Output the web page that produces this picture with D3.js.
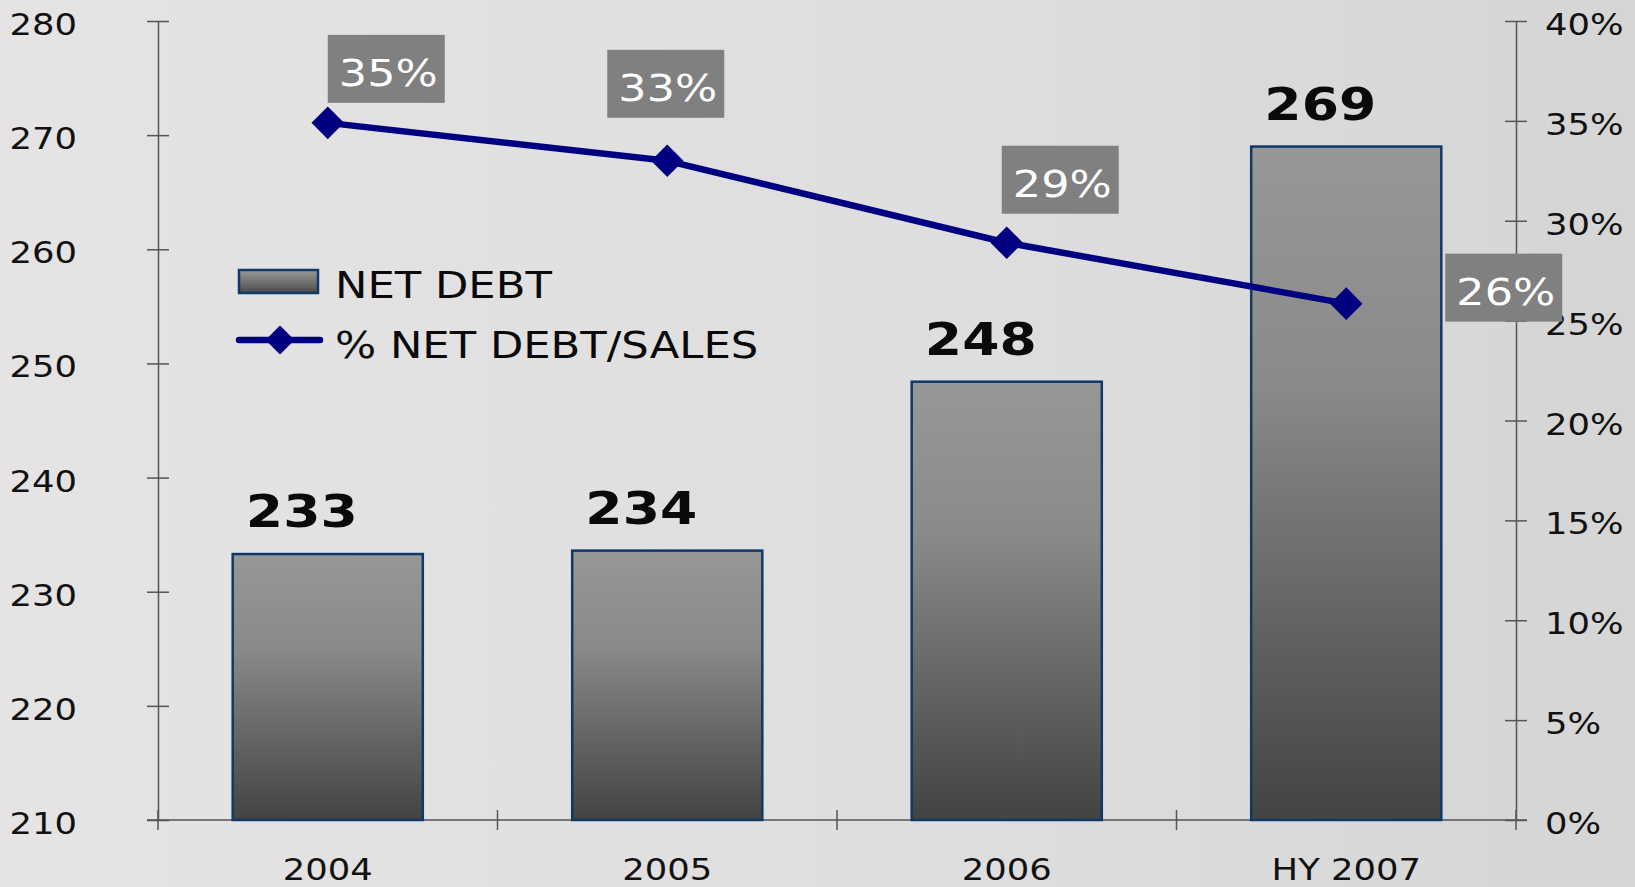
<!DOCTYPE html>
<html>
<head>
<meta charset="utf-8">
<script src="https://cdn.jsdelivr.net/npm/d3@7"></script>
<style>
  body { margin: 0; overflow: hidden; }
  svg { display: block; }
  text { font-family: "DejaVu Sans", Verdana, sans-serif; }
</style>
</head>
<body>
<svg id="chart" width="1635" height="887"></svg>
<script>
// data
var categories = ['2004', '2005', '2006', 'HY 2007'];
var netDebt = [233.3, 233.6, 248.4, 269.0];
var debtSalesPct = [0.349, 0.330, 0.289, 0.2585];
var debtSalesLabels = ['35%', '33%', '29%', '26%'];
var leftTicks = [210, 220, 230, 240, 250, 260, 270, 280];
var rightTicks = [0, 0.05, 0.10, 0.15, 0.20, 0.25, 0.30, 0.35, 0.40];

// where the grey % boxes sit relative to their point (left edge, top edge)
var boxOffsets = [[0, -88], [-60, -111], [-5, -97], [99, -50]];

var width = 1635, height = 887;
var plot = { left: 158, right: 1516, top: 21, bottom: 820 };
var stretch = 1.14;     // text in the source is drawn a bit wide
var boldStretch = 1.19;

var svg = d3.select('#chart');
var defs = svg.append('defs');

// put a text at (px,py) and widen it a little, like the source slide
function place(sel, px, py, s) {
  sel.attr('x', 0).attr('y', 0).attr('dy', 0)
    .attr('transform', 'translate(' + px + ',' + py + ') scale(' + s + ',1)');
}

// background
var bg = defs.append('linearGradient').attr('id', 'bg')
  .attr('x1', '0%').attr('y1', '0%').attr('x2', '100%').attr('y2', '0%');
bg.append('stop').attr('offset', '0%').attr('stop-color', '#e5e3e4');
bg.append('stop').attr('offset', '60%').attr('stop-color', '#dfdedf');
bg.append('stop').attr('offset', '100%').attr('stop-color', '#d5d5d5');
svg.append('rect').attr('width', width).attr('height', height).attr('fill', 'url(#bg)');

// bar gradient
var barGrad = defs.append('linearGradient').attr('id', 'barGrad')
  .attr('x1', '0%').attr('y1', '0%').attr('x2', '0%').attr('y2', '100%');
barGrad.append('stop').attr('offset', '0%').attr('stop-color', '#979797');
barGrad.append('stop').attr('offset', '35%').attr('stop-color', '#8a8a8a');
barGrad.append('stop').attr('offset', '100%').attr('stop-color', '#434343');

var x = d3.scaleBand()
  .domain(categories)
  .range([plot.left, plot.right])
  .paddingInner(0.44)
  .paddingOuter(0.22);

var yLeft = d3.scaleLinear().domain([210, 280]).range([plot.bottom, plot.top]);
var yRight = d3.scaleLinear().domain([0, 0.40]).range([plot.bottom, plot.top]);

var axisColor = '#555555';

// left axis
var gLeft = svg.append('g')
  .attr('transform', 'translate(' + plot.left + ',0)')
  .call(d3.axisLeft(yLeft).tickValues(leftTicks).tickSizeInner(11).tickSizeOuter(0));
gLeft.selectAll('.tick line').attr('x1', 11);
gLeft.selectAll('.tick text')
  .attr('text-anchor', 'end')
  .style('font-size', '31px').attr('fill', '#111')
  .each(function() { place(d3.select(this), -81, 13.5, stretch); });

// right axis
var gRight = svg.append('g')
  .attr('transform', 'translate(' + plot.right + ',0)')
  .call(d3.axisRight(yRight).tickValues(rightTicks).tickSizeInner(11).tickSizeOuter(0)
    .tickFormat(d3.format('.0%')));
gRight.selectAll('.tick line').attr('x1', -11);
gRight.selectAll('.tick text')
  .attr('text-anchor', 'start')
  .style('font-size', '31px').attr('fill', '#111')
  .each(function() { place(d3.select(this), 29, 13.5, stretch); });

// bottom axis: labels at band centres, ticks at band boundaries
var gBottom = svg.append('g')
  .attr('transform', 'translate(0,' + plot.bottom + ')')
  .call(d3.axisBottom(x).tickSize(0).tickPadding(0));
gBottom.select('.domain').remove();
gBottom.selectAll('.tick text')
  .style('font-size', '31px').attr('fill', '#111')
  .each(function() { place(d3.select(this), 0, 60, stretch); });

var halfGap = x.step() * x.paddingInner() / 2;
var bounds = categories.map(function(c) { return x(c) - halfGap; });
bounds.push(plot.right);

svg.append('line')
  .attr('x1', plot.left - 11).attr('x2', plot.right + 11)
  .attr('y1', plot.bottom).attr('y2', plot.bottom)
  .attr('stroke', axisColor).attr('stroke-width', 1.5);

svg.append('g').selectAll('line')
  .data(bounds)
  .enter().append('line')
  .attr('x1', function(d) { return d; }).attr('x2', function(d) { return d; })
  .attr('y1', plot.bottom - 10).attr('y2', plot.bottom + 10)
  .attr('stroke', axisColor).attr('stroke-width', 1.5);

svg.selectAll('.domain').attr('stroke', axisColor).attr('stroke-width', 1.5);
svg.selectAll('.tick line').attr('stroke', axisColor).attr('stroke-width', 1.5);

// bars
svg.append('g').selectAll('rect')
  .data(netDebt)
  .enter().append('rect')
  .attr('x', function(d, i) { return x(categories[i]); })
  .attr('y', function(d) { return yLeft(d); })
  .attr('width', x.bandwidth())
  .attr('height', function(d) { return yLeft(210) - yLeft(d); })
  .attr('fill', 'url(#barGrad)')
  .attr('stroke', '#10396a')
  .attr('stroke-width', 2.5);

// bar value labels
svg.append('g').selectAll('text')
  .data(netDebt)
  .enter().append('text')
  .attr('text-anchor', 'middle')
  .style('font-size', '45px').style('font-weight', 'bold')
  .attr('fill', '#0a0a0a')
  .text(function(d) { return d3.format('.0f')(d); })
  .each(function(d, i) {
    place(d3.select(this), x(categories[i]) + x.bandwidth() / 2 - 26, yLeft(d) - 27, boldStretch);
  });

// line
var cx = function(i) { return x(categories[i]) + x.bandwidth() / 2; };
var lineGen = d3.line()
  .x(function(d, i) { return cx(i); })
  .y(function(d) { return yRight(d); });

svg.append('path')
  .datum(debtSalesPct)
  .attr('d', lineGen)
  .attr('fill', 'none')
  .attr('stroke', '#000080')
  .attr('stroke-width', 6.5)
  .attr('stroke-linejoin', 'round');

var diamond = d3.symbol().type(d3.symbolSquare).size(530);
svg.append('g').selectAll('path')
  .data(debtSalesPct)
  .enter().append('path')
  .attr('d', diamond)
  .attr('transform', function(d, i) { return 'translate(' + cx(i) + ',' + yRight(d) + ') rotate(45)'; })
  .attr('fill', '#000080');

// grey % boxes
var boxW = 117, boxH = 68;
var boxes = svg.append('g').selectAll('g')
  .data(debtSalesPct)
  .enter().append('g')
  .attr('transform', function(d, i) {
    return 'translate(' + (cx(i) + boxOffsets[i][0]) + ',' + (yRight(d) + boxOffsets[i][1]) + ')';
  });
boxes.append('rect')
  .attr('width', boxW).attr('height', boxH)
  .attr('fill', '#808080');
boxes.append('text')
  .attr('text-anchor', 'middle')
  .style('font-size', '38px')
  .attr('fill', '#ffffff')
  .text(function(d, i) { return debtSalesLabels[i]; })
  .each(function() { place(d3.select(this), boxW / 2 + 2, 51, stretch + 0.03); });

// legend
var legend = svg.append('g');
var legGrad = defs.append('linearGradient').attr('id', 'legGrad')
  .attr('x1', '0%').attr('y1', '0%').attr('x2', '0%').attr('y2', '100%');
legGrad.append('stop').attr('offset', '0%').attr('stop-color', '#9a9a9a');
legGrad.append('stop').attr('offset', '100%').attr('stop-color', '#4a4a4a');

legend.append('rect')
  .attr('x', 239).attr('y', 270).attr('width', 79).attr('height', 23)
  .attr('fill', 'url(#legGrad)').attr('stroke', '#10396a').attr('stroke-width', 2.5);
legend.append('text')
  .style('font-size', '38px')
  .attr('fill', '#0a0a0a')
  .text('NET DEBT')
  .call(place, 335, 298, stretch);

legend.append('line')
  .attr('x1', 239).attr('x2', 320).attr('y1', 340).attr('y2', 340)
  .attr('stroke', '#000080').attr('stroke-width', 6.5).attr('stroke-linecap', 'round');
legend.append('path')
  .attr('d', d3.symbol().type(d3.symbolSquare).size(420))
  .attr('transform', 'translate(280,340) rotate(45)')
  .attr('fill', '#000080');
legend.append('text')
  .style('font-size', '38px')
  .attr('fill', '#0a0a0a')
  .text('% NET DEBT/SALES')
  .call(place, 335, 358, stretch);
</script>
</body>
</html>
